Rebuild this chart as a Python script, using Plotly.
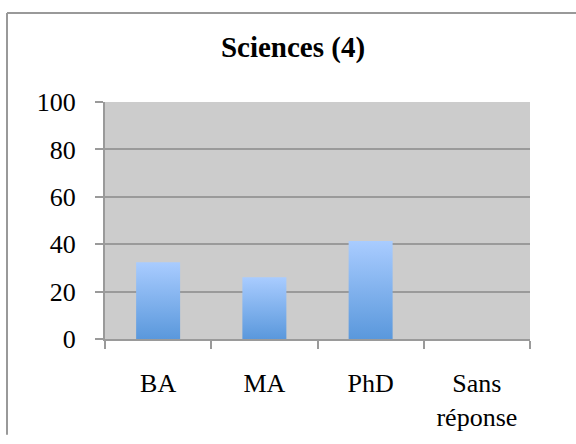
import plotly.graph_objects as go

categories = ["BA", "MA", "PhD", "Sans<br>réponse"]
values = [32.4, 26.1, 41.3, 0]
y_ticks = [0, 20, 40, 60, 80, 100]
title_text = "Sciences (4)"

W, H = 576, 444
ML, MR, MT, MB = 105, 46, 102, 97
PW, PH = W - ML - MR, H - MT - MB

bar_w = 0.414
grid_col = "#9a9a9a"
font_fam = "Liberation Serif"

fig = go.Figure()
for i, v in enumerate(values):
    if v <= 0:
        continue
    x0, x1 = i - bar_w / 2, i + bar_w / 2
    fig.add_trace(go.Scatter(
        x=[x0, x1, x1, x0, x0], y=[0, 0, v, v, 0],
        mode="lines", line=dict(width=0), fill="toself",
        fillgradient=dict(type="vertical",
                          colorscale=[[0, "#5a98dc"], [1, "#a9ccff"]]),
        hoverinfo="skip", showlegend=False,
    ))

fig.update_layout(
    width=W, height=H,
    margin=dict(l=ML, r=MR, t=MT, b=MB, pad=0),
    paper_bgcolor="white", plot_bgcolor="#cccccc",
    font=dict(family=font_fam, size=26, color="black"),
    title=dict(text="<b>" + title_text + "</b>", x=293 / W, xanchor="center",
               y=1 - 47 / H, yanchor="middle", xref="container", yref="container",
               font=dict(family=font_fam, size=29, color="black")),
    showlegend=False,
)
fig.update_xaxes(
    range=[-0.5, len(categories) - 0.5], tickmode="array",
    tickvals=list(range(len(categories))), ticktext=categories,
    ticks="", showgrid=False, zeroline=False,
    showline=True, linecolor=grid_col, linewidth=2,
    ticklabelstandoff=20,
    minor=dict(tickmode="array",
               tickvals=[i - 0.5 for i in range(len(categories) + 1)],
               ticks="outside", ticklen=8, tickwidth=2, tickcolor=grid_col,
               showgrid=False),
    fixedrange=True,
)
fig.update_yaxes(
    range=[0, 100], tickmode="array", tickvals=y_ticks,
    ticks="outside", ticklen=8, tickwidth=2, tickcolor=grid_col,
    showgrid=True, gridcolor=grid_col, gridwidth=2,
    zeroline=False, showline=True, linecolor=grid_col, linewidth=2,
    ticklabelstandoff=14, fixedrange=True,
)

# outer chart border (top and left edges visible)
def px_x(p):
    return (p - ML) / PW

def px_y(p):
    return 1 - (p - MT) / PH

border = dict(color="#999999", width=2)
fig.add_shape(type="line", xref="paper", yref="paper",
              x0=px_x(7), x1=px_x(W + 2), y0=px_y(10), y1=px_y(10), line=border)
fig.add_shape(type="line", xref="paper", yref="paper",
              x0=px_x(7), x1=px_x(7), y0=px_y(10), y1=px_y(H + 2), line=border)

fig.write_html("out.html", config={"staticPlot": True},
               post_script="document.body.style.margin='0';document.body.style.overflow='hidden';")
